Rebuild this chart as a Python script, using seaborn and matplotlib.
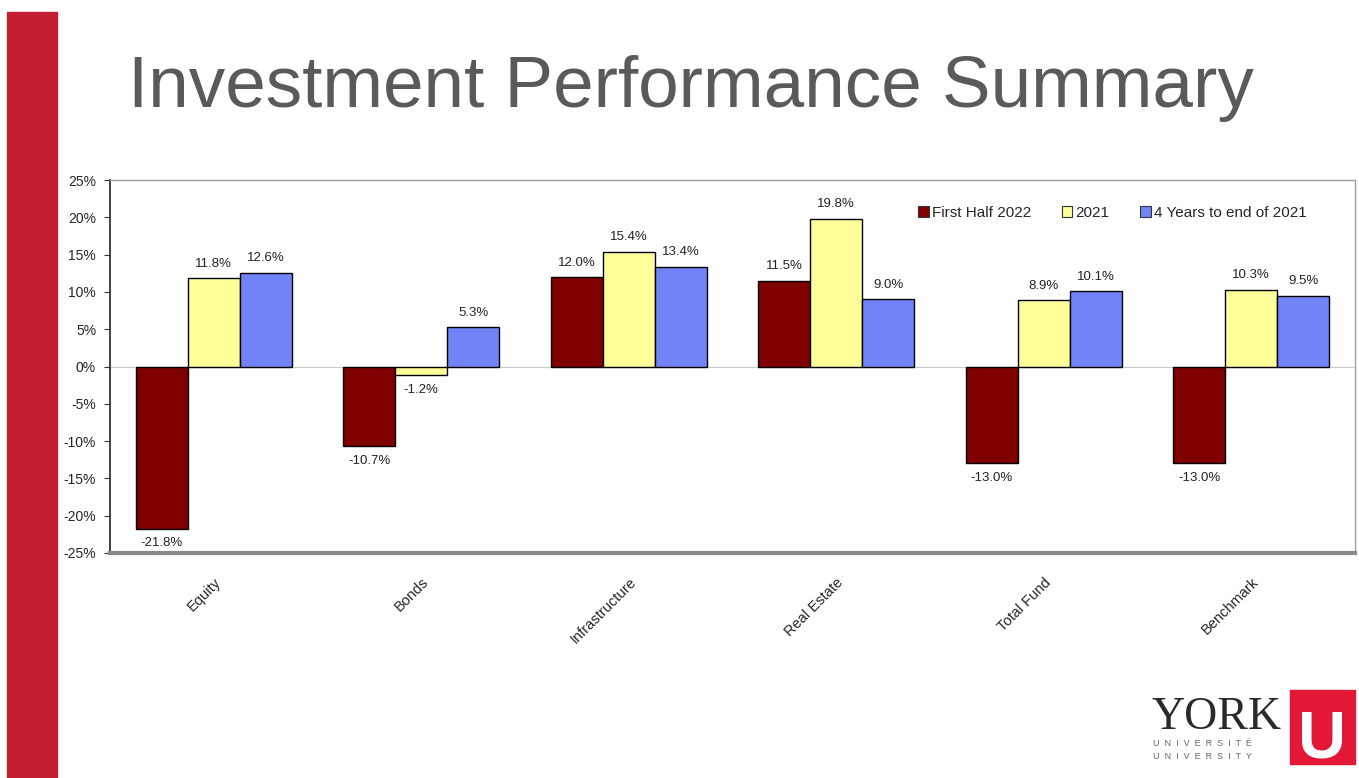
import pandas as pd
import seaborn as sns
import matplotlib.pyplot as plt
from matplotlib.patches import Rectangle
from matplotlib.ticker import FuncFormatter

# Chart data
categories = ['Equity', 'Bonds', 'Infrastructure', 'Real Estate', 'Total Fund', 'Benchmark']
series = ['First Half 2022', '2021', '4 Years to end of 2021']
first_half_2022 = [-21.8, -10.7, 12.0, 11.5, -13.0, -13.0]
year_2021 = [11.8, -1.2, 15.4, 19.8, 8.9, 10.3]
four_years = [12.6, 5.3, 13.4, 9.0, 10.1, 9.5]
colors = ['#800000', '#FFFF99', '#7183F6']

rows = []
for name, vals in zip(series, [first_half_2022, year_2021, four_years]):
    for cat, v in zip(categories, vals):
        rows.append({'Category': cat, 'Series': name, 'Return': v})
df = pd.DataFrame(rows)

sns.set_style('white')
plt.rcParams['font.family'] = ['Liberation Sans', 'DejaVu Sans']

fig = plt.figure(figsize=(13.59, 7.78), dpi=100)

# slide decoration: red side band and title
fig.patches.append(Rectangle((7 / 1359, 0), 50 / 1359, 1 - 12 / 778,
                             transform=fig.transFigure, color='#C41E32', zorder=0))
fig.text(128 / 1359, 1 - 107 / 778, 'Investment Performance Summary',
         fontsize=52.5, color='#5A5A5A', ha='left', va='baseline')

ax = fig.add_axes([110 / 1359, 1 - 553 / 778, 1245 / 1359, 373 / 778])
sns.barplot(data=df, x='Category', y='Return', hue='Series', hue_order=series,
            palette=colors, order=categories, width=0.75, edgecolor='black',
            linewidth=1, saturation=1, ax=ax, zorder=3)

for cont in ax.containers:
    ax.bar_label(cont, fmt='%.1f%%', padding=6, fontsize=9.5, color='#222222')

ax.axhline(0, color='#C8C8C8', linewidth=0.8, zorder=2)
ax.set_ylim(-25, 25)
ax.set_xlim(-0.5, len(categories) - 0.5)
ax.set_yticks(range(-25, 26, 5))
ax.yaxis.set_major_formatter(FuncFormatter(lambda v, p: f'{v:.0f}%'))
ax.tick_params(axis='y', labelsize=10, length=4, color='#333333', direction='out',
               left=True, pad=6)
ax.tick_params(axis='x', labelsize=10.5, length=0, pad=16)
plt.setp(ax.get_xticklabels(), rotation=45, ha='right', rotation_mode='anchor')
ax.set_xlabel('')
ax.set_ylabel('')

ax.spines['left'].set_color('#333333')
ax.spines['left'].set_linewidth(1.3)
ax.spines['bottom'].set_color('#8A8A8A')
ax.spines['bottom'].set_linewidth(3)
for s in ['top', 'right']:
    ax.spines[s].set_color('#A0A0A0')
    ax.spines[s].set_linewidth(1)

leg = ax.legend(loc='upper right', ncol=3, frameon=False, fontsize=11,
                handlelength=0.7, handleheight=0.7, handletextpad=0.2,
                columnspacing=2.0, bbox_to_anchor=(0.972, 0.968))
for h in leg.legend_handles:
    h.set_edgecolor('#333333')
    h.set_linewidth(0.8)

# York University logo
fig.text(1151 / 1359, 1 - 729 / 778, 'YORK', fontsize=33, family='Liberation Serif',
         color='#2A2A2A', ha='left', va='baseline')
fig.text(1153 / 1359, 1 - 746 / 778, 'U  N  I  V  E  R  S  I  T  É', fontsize=6.5,
         color='#666666', ha='left', va='baseline')
fig.text(1153 / 1359, 1 - 759 / 778, 'U  N  I  V  E  R  S  I  T  Y', fontsize=6.5,
         color='#666666', ha='left', va='baseline')
fig.patches.append(Rectangle((1290 / 1359, 1 - 764 / 778), 65 / 1359, 74 / 778,
                             transform=fig.transFigure, color='#E31837', zorder=1))
fig.text(1322 / 1359, 1 - 758 / 778, 'U', fontsize=48, fontweight='bold',
         color='white', ha='center', va='baseline', zorder=2)

fig.savefig('out.png', dpi=100)
